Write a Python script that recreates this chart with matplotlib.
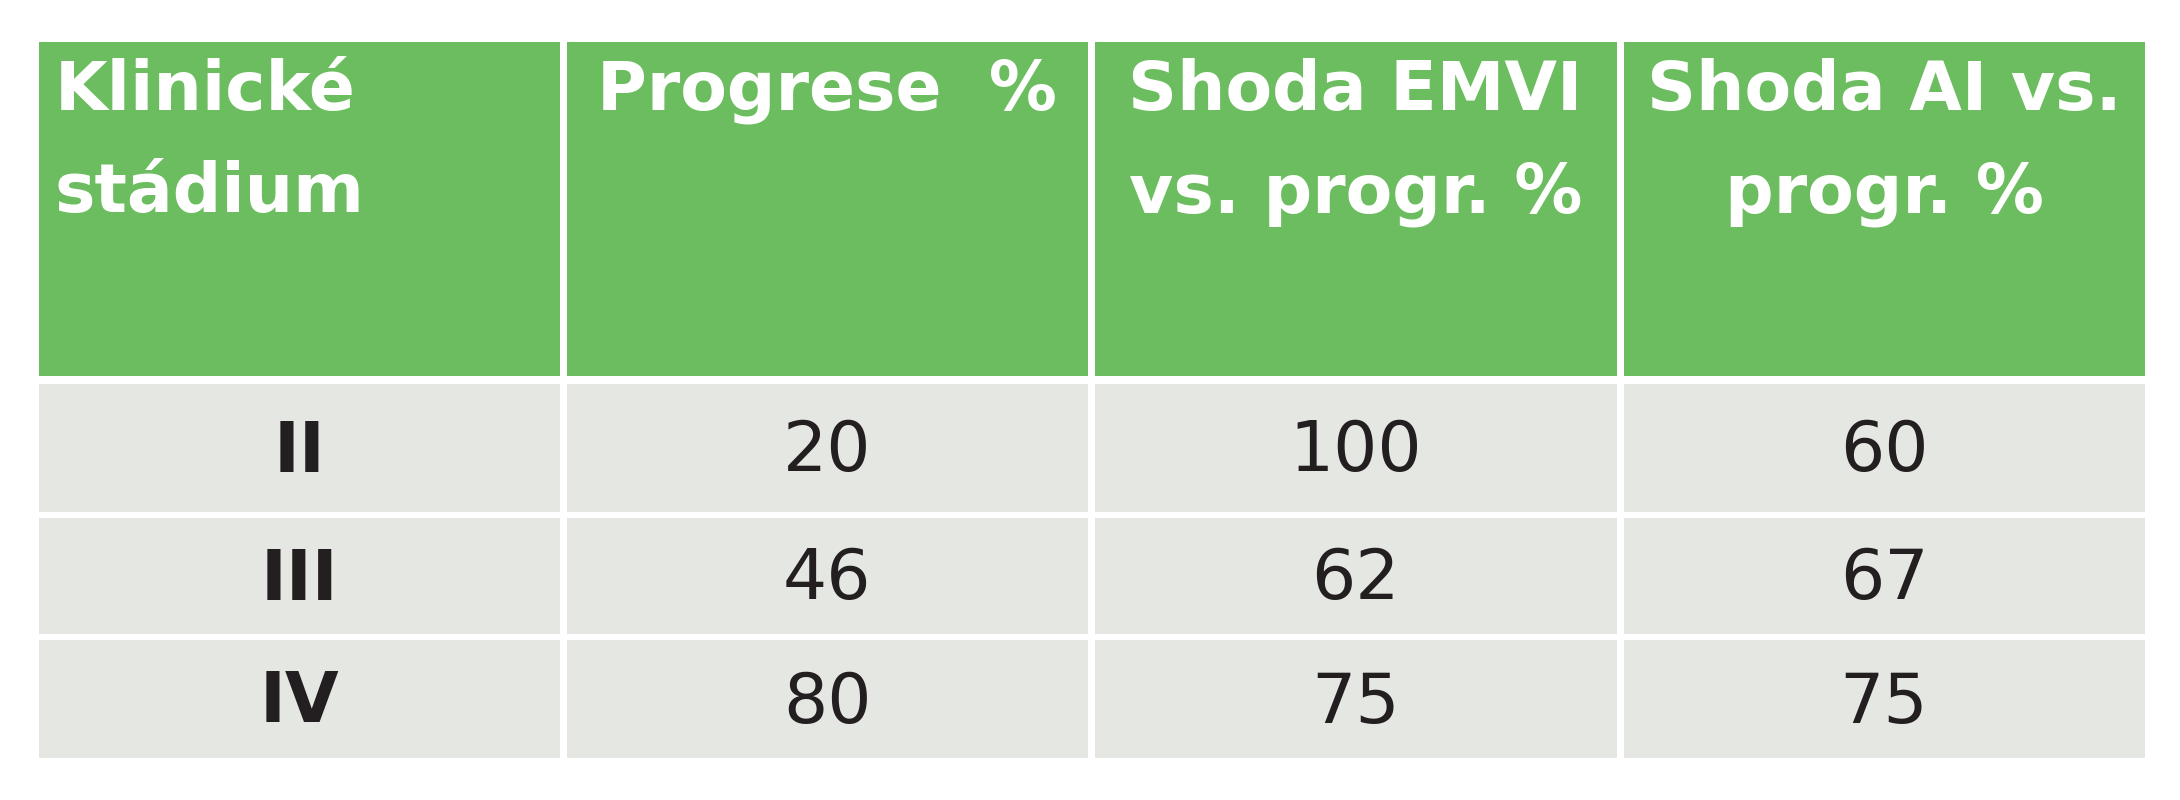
import matplotlib.pyplot as plt
from matplotlib.patches import Rectangle

headers = ['Klinické\nstádium', 'Progrese  %', 'Shoda EMVI\nvs. progr. %', 'Shoda AI vs.\nprogr. %']
stages = ['II', 'III', 'IV']
progrese = [20, 46, 80]
shoda_emvi = [100, 62, 75]
shoda_ai = [60, 67, 75]

green = '#6cbd5f'
grey = '#e5e7e2'

col_x = [39, 563, 1091, 1620, 2148]
head_y = (42, 376)
row_y = [(384, 512), (518, 634), (640, 758)]
gap = 7

fig = plt.figure(figsize=(21.8, 8), dpi=100)
ax = fig.add_axes([0, 0, 1, 1])
ax.set_xlim(0, 2180)
ax.set_ylim(800, 0)
ax.axis('off')

for i, h in enumerate(headers):
    x0, x1 = col_x[i] + (0 if i == 0 else gap / 2), col_x[i + 1] - gap / 2
    ax.add_patch(Rectangle((x0, head_y[0]), x1 - x0, head_y[1] - head_y[0], color=green, lw=0))
    if i == 0:
        ax.text(x0 + 16, head_y[0] + 16, h, color='white', fontsize=49, fontweight='bold',
                ha='left', va='top', linespacing=1.7)
    else:
        ax.text((x0 + x1) / 2, head_y[0] + 16, h, color='white', fontsize=49, fontweight='bold',
                ha='center', va='top', linespacing=1.7)

rows = list(zip(stages, progrese, shoda_emvi, shoda_ai))
for r, vals in enumerate(rows):
    y0, y1 = row_y[r]
    for i, v in enumerate(vals):
        x0, x1 = col_x[i] + (0 if i == 0 else gap / 2), col_x[i + 1] - gap / 2
        ax.add_patch(Rectangle((x0, y0), x1 - x0, y1 - y0, color=grey, lw=0))
        ax.text((x0 + x1) / 2, (y0 + y1) / 2 + 4, str(v), color='#231f20', fontsize=50,
                fontweight='bold' if i == 0 else 'normal', ha='center', va='center')

fig.savefig('out.png', dpi=100, facecolor='white')
